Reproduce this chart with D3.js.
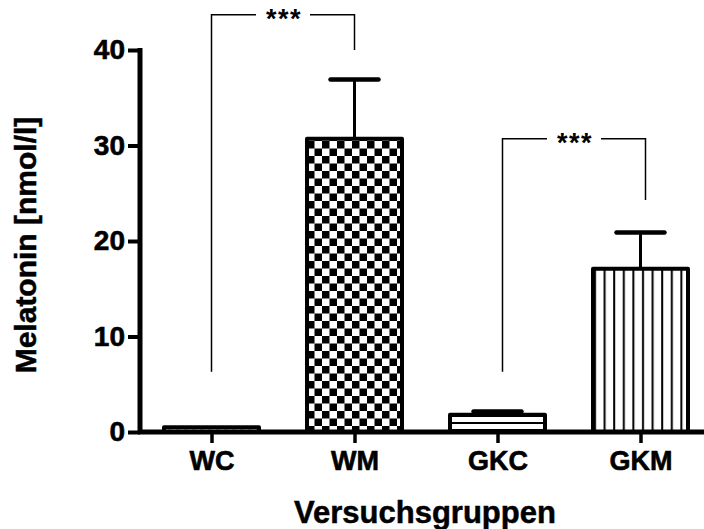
<!DOCTYPE html>
<html>
<head>
<meta charset="utf-8">
<script src="https://cdn.jsdelivr.net/npm/d3@7"></script>
<style>
  body { margin: 0; background: #fff; }
  svg { display: block; font-family: "Liberation Sans", Arial, sans-serif; font-weight: bold; }
</style>
</head>
<body>
<svg id="chart"></svg>
<script>
"use strict";

// groups and measured values (mean, SEM) in nmol/l
const groups = ["WC", "WM", "GKC", "GKM"];
const means = [0.5, 30.7, 1.8, 17.1];
const errors = [0, 6.2, 0.35, 3.8];
const patterns = ["dash", "checker", "hlines", "vlines"];
const yTicks = [0, 10, 20, 30, 40];

// significance brackets: from group, to group, height and drop ends
const brackets = [
    {from: "WC", to: "WM", top: 43.7, leftEnd: 6.3, rightEnd: 40.0, label: "***"},
    {from: "GKC", to: "GKM", top: 30.7, leftEnd: 6.3, rightEnd: 24.3, label: "***"}
];

const width = 704, height = 529;
const svg = d3.select("#chart").attr("width", width).attr("height", height);

const x = d3.scalePoint().domain(groups).range([140, 712]).padding(0.5);
const y = d3.scaleLinear().domain([0, 40]).range([432, 50]);
const barW = 99;

// fill patterns
const defs = svg.append("defs");
let p = defs.append("pattern").attr("id", "checker").attr("patternUnits", "userSpaceOnUse")
    .attr("width", 15).attr("height", 15).attr("x", 307).attr("y", 141);
p.append("rect").attr("width", 15).attr("height", 15).attr("fill", "#fff");
p.append("rect").attr("width", 7.5).attr("height", 7.5).attr("fill", "#000");
p.append("rect").attr("x", 7.5).attr("y", 7.5).attr("width", 7.5).attr("height", 7.5).attr("fill", "#000");

p = defs.append("pattern").attr("id", "vlines").attr("patternUnits", "userSpaceOnUse")
    .attr("width", 9.6).attr("height", 10).attr("x", 591);
p.append("rect").attr("width", 9.6).attr("height", 10).attr("fill", "#fff");
p.append("rect").attr("x", 3).attr("width", 2).attr("height", 10).attr("fill", "#000");

p = defs.append("pattern").attr("id", "hlines").attr("patternUnits", "userSpaceOnUse")
    .attr("width", 10).attr("height", 7).attr("y", 417);
p.append("rect").attr("width", 10).attr("height", 7).attr("fill", "#fff");
p.append("rect").attr("y", 5).attr("width", 10).attr("height", 2).attr("fill", "#000");

p = defs.append("pattern").attr("id", "dash").attr("patternUnits", "userSpaceOnUse")
    .attr("width", 8).attr("height", 12).attr("y", 424);
p.append("rect").attr("width", 8).attr("height", 12).attr("fill", "#fff");
p.append("rect").attr("y", 4.5).attr("width", 4).attr("height", 1).attr("fill", "#888");

// error bars (behind bars)
const err = svg.append("g").attr("stroke", "#000").attr("stroke-linecap", "round");
groups.forEach((g, i) => {
    if (!errors[i]) return;
    const top = y(means[i] + errors[i]);
    err.append("line").attr("x1", x(g)).attr("x2", x(g))
        .attr("y1", y(means[i])).attr("y2", top).attr("stroke-width", 3);
    err.append("line").attr("x1", x(g) - 24).attr("x2", x(g) + 24)
        .attr("y1", top).attr("y2", top).attr("stroke-width", 4.5);
});

// bars
svg.append("g").selectAll("rect").data(groups).join("rect")
    .attr("x", d => x(d) - barW / 2 + 2)
    .attr("width", barW - 4)
    .attr("y", (d, i) => y(means[i]))
    .attr("height", (d, i) => y(0) - y(means[i]))
    .attr("fill", (d, i) => `url(#${patterns[i]})`)
    .attr("stroke", "#000")
    .attr("stroke-width", 4)
    .attr("stroke-linejoin", "round");

// y axis
const yAxis = svg.append("g").attr("transform", "translate(140,0)")
    .call(d3.axisLeft(y).tickValues(yTicks).tickSize(12).tickSizeOuter(0).tickPadding(3));
yAxis.select(".domain").attr("stroke-width", 5).attr("d", `M0,${y(40) - 2}V${y(0)}`);
yAxis.selectAll(".tick line").attr("stroke-width", 4);
yAxis.selectAll("text").attr("font-size", 28).attr("font-family", null).attr("fill", "#000")
    .attr("stroke", "#000").attr("stroke-width", 0.6);

// x axis
const xAxis = svg.append("g").attr("transform", `translate(0,${y(0)})`)
    .call(d3.axisBottom(x).tickSize(11).tickSizeOuter(0).tickPadding(8));
xAxis.select(".domain").attr("stroke-width", 5).attr("d", "M138,0H704");
xAxis.selectAll(".tick line").attr("stroke-width", 3.5);
xAxis.selectAll("text").attr("font-size", 27).attr("font-family", null).attr("fill", "#000")
    .attr("stroke", "#000").attr("stroke-width", 0.6);

// significance brackets
const shift = [0, 5];
brackets.forEach((b, i) => {
    const x1 = x(b.from) + shift[i], x2 = x(b.to) + shift[i];
    const yt = y(b.top), mid = (x1 + x2) / 2, gap = 27;
    const bg = svg.append("g").attr("fill", "none").attr("stroke", "#000").attr("stroke-width", 1.5);
    bg.append("path").attr("d", `M${x1},${y(b.leftEnd)}V${yt}H${mid - gap}`);
    bg.append("path").attr("d", `M${mid + gap},${yt}H${x2}V${y(b.rightEnd)}`);
    svg.append("text").attr("x", mid + 1).attr("y", yt + 13).attr("text-anchor", "middle")
        .attr("font-size", 27).attr("letter-spacing", 1.5).text(b.label);
});

// axis titles
svg.append("text").attr("x", 425).attr("y", 523).attr("text-anchor", "middle")
    .attr("font-size", 31).attr("stroke", "#000").attr("stroke-width", 0.5).text("Versuchsgruppen");
svg.append("text").attr("transform", "translate(36,245) rotate(-90)").attr("text-anchor", "middle")
    .attr("font-size", 30).attr("stroke", "#000").attr("stroke-width", 0.5).text("Melatonin [nmol/l]");
</script>
</body>
</html>
